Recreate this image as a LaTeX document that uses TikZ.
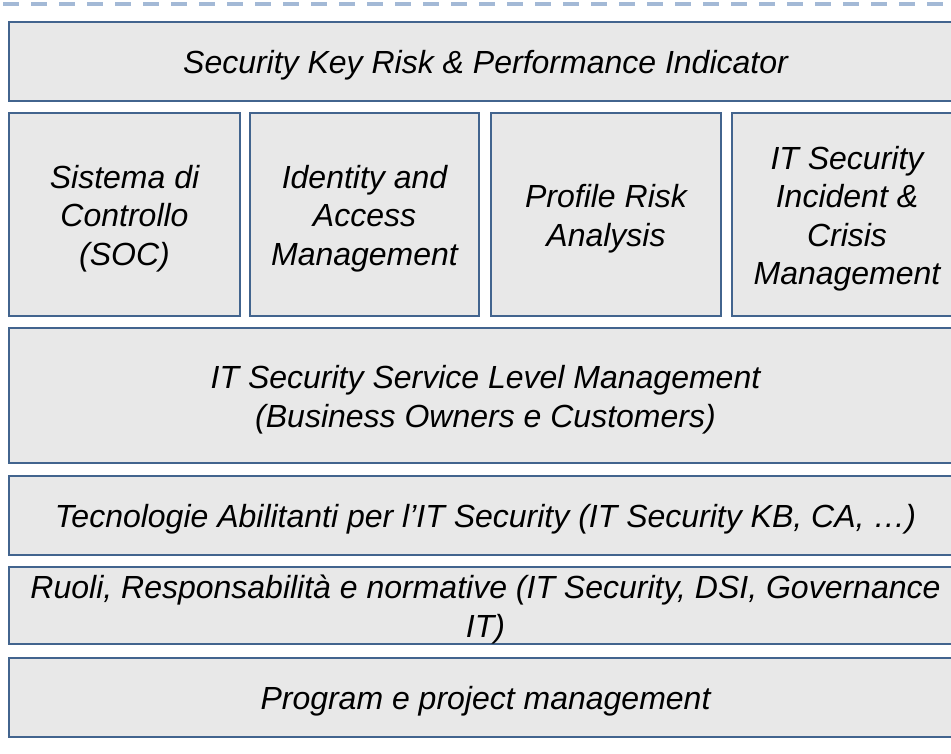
\documentclass[tikz,border=0pt]{standalone}
\usepackage{fontspec}
\setmainfont{Liberation Sans}
\begin{document}
\begin{tikzpicture}[x=1pt,y=-1pt]
\definecolor{boxline}{RGB}{66,100,142}
\definecolor{boxfill}{RGB}{232,232,232}
\definecolor{dashblue}{RGB}{163,185,214}
\tikzset{
  layerbox/.style={draw=boxline, fill=boxfill, line width=2pt, rectangle,
    inner sep=0pt},
  layertext/.style={inner sep=0pt, align=center, text=black, yshift=-4pt,
    font=\fontsize{32}{38.5}\selectfont\itshape},
  topline/.style={draw=dashblue, line width=3.3pt, dash pattern=on 16pt off 12pt}
}
\useasboundingbox (0,0) rectangle (951,753);
\clip (0,0) rectangle (951,753);
\fill[white] (0,0) rectangle (951,753);

% dashed rule along the top
\coordinate (ruleL) at (3,4);
\coordinate (ruleR) at (951,4);
\draw[topline] (ruleL) -- (ruleR);

% top layer
\node[layerbox, minimum width=953pt, minimum height=79pt] (kri) at (485.5,61.5) {};
\node[layertext] at (kri.center) {Security Key Risk \& Performance Indicator};

% four pillars
\node[layerbox, minimum width=231pt, minimum height=203pt] (soc) at (124.5,214.5) {};
\node[layerbox, minimum width=229pt, minimum height=203pt] (iam) at (364.5,214.5) {};
\node[layerbox, minimum width=230pt, minimum height=203pt] (pra) at (606,214.5) {};
\node[layerbox, minimum width=230pt, minimum height=203pt] (icm) at (847,214.5) {};
\node[layertext] at (soc.center) {Sistema di\\Controllo\\(SOC)};
\node[layertext] at (iam.center) {Identity and\\Access\\Management};
\node[layertext] at (pra.center) {Profile Risk\\Analysis};
\node[layertext] at (icm.center) {IT Security\\Incident \&\\Crisis\\Management};

% lower layers
\node[layerbox, minimum width=953pt, minimum height=135pt] (slm) at (485.5,395.5) {};
\node[layerbox, minimum width=953pt, minimum height=79pt] (tec) at (485.5,515.5) {};
\node[layerbox, minimum width=953pt, minimum height=77pt] (ruo) at (485.5,605.5) {};
\node[layerbox, minimum width=953pt, minimum height=79pt] (ppm) at (485.5,697.5) {};
\node[layertext] at (slm.center)
  {IT Security Service Level Management\\(Business Owners e Customers)};
\node[layertext] at (tec.center)
  {Tecnologie Abilitanti per l’IT Security (IT Security KB, CA, …)};
\node[layertext] at (ruo.center)
  {Ruoli, Responsabilità e normative (IT Security, DSI, Governance\\IT)};
\node[layertext] at (ppm.center) {Program e project management};
\end{tikzpicture}
\end{document}
